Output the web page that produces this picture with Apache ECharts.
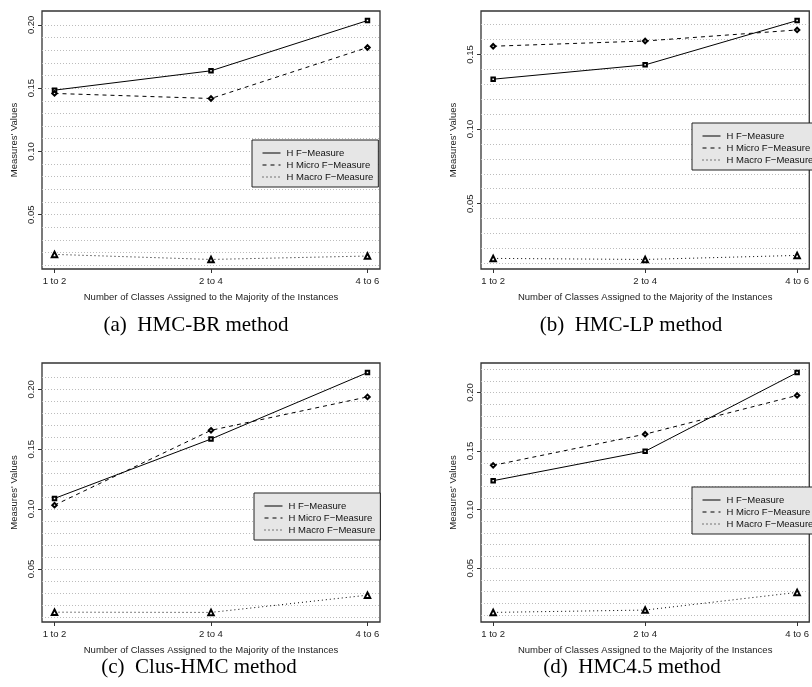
<!DOCTYPE html>
<html>
<head>
<meta charset="utf-8">
<script src="https://cdn.jsdelivr.net/npm/echarts@6/dist/echarts.min.js"></script>
<style>
html,body{margin:0;padding:0;background:#fff;}
#chart{width:812px;height:687px;}
</style>
</head>
<body>
<div id="chart"></div>
<script>
// ---- data ----
const categories = ['1 to 2', '2 to 4', '4 to 6'];
const seriesNames = ['H F\u2212Measure', 'H Micro F\u2212Measure', 'H Macro F\u2212Measure'];
const yTickValues = [0.05, 0.10, 0.15, 0.20];
const xAxisTitle = 'Number of Classes Assigned to the Majority of the Instances';
const yAxisTitle = "Measures' Values";
const captions = ['(a)\u2002HMC-BR method', '(b)\u2002HMC-LP method', '(c)\u2002Clus-HMC method', '(d)\u2002HMC4.5 method'];

const brHF    = [0.1484, 0.1637, 0.2034];
const brMicro = [0.1458, 0.1418, 0.1821];
const brMacro = [0.0186, 0.0146, 0.0173];

const lpHF    = [0.1334, 0.1430, 0.1727];
const lpMicro = [0.1555, 0.1590, 0.1664];
const lpMacro = [0.0133, 0.0126, 0.0153];

const clusHF    = [0.1089, 0.1585, 0.2140];
const clusMicro = [0.1033, 0.1658, 0.1937];
const clusMacro = [0.0139, 0.0137, 0.0281];

const c45HF    = [0.1247, 0.1498, 0.2170];
const c45Micro = [0.1378, 0.1644, 0.1975];
const c45Macro = [0.0122, 0.0142, 0.0293];

const panels = [
  [brHF, brMicro, brMacro],
  [lpHF, lpMicro, lpMacro],
  [clusHF, clusMicro, clusMacro],
  [c45HF, c45Micro, c45Macro]
];

// ---- layout / style ----
const FONT = 'Liberation Sans';
const gridBoxes = [
  {left: 42,  top: 11,  width: 338, height: 258},
  {left: 481, top: 11,  width: 339, height: 258},
  {left: 42,  top: 363, width: 338, height: 259},
  {left: 481, top: 363, width: 339, height: 259}
];
const legendPos = [
  {left: 252, top: 140},
  {left: 692, top: 123},
  {left: 254, top: 493},
  {left: 692, top: 487}
];
const captionPos = [
  {x: 196, y: 325},
  {x: 631, y: 325},
  {x: 199, y: 667},
  {x: 632, y: 667}
];
const lineTypes = ['solid', [4, 4], [1, 3]];
const symbols = ['emptyRect', 'emptyDiamond', 'emptyTriangle'];
const symbolSizes = [3.5, 4.5, 5.5];
const symbolBorders = [1, 1, 0.8];

const option = {
  animation: false,
  backgroundColor: '#fff',
  grid: [], xAxis: [], yAxis: [], series: [], legend: [], graphic: []
};

panels.forEach((vals, i) => {
  const all = vals.flat();
  const dMin = Math.min(...all), dMax = Math.max(...all);
  const ext = (dMax - dMin) * 0.04;
  const yMin = dMin - ext, yMax = dMax + ext;
  const ticks = yTickValues.filter(v => v >= yMin && v <= yMax);
  const gridLevels = [];
  for (let v = dMax; v >= yMin; v -= 0.01) gridLevels.push(v);

  option.grid.push(Object.assign({
    show: true, borderColor: '#333', borderWidth: 1.3, backgroundColor: 'transparent'
  }, gridBoxes[i]));

  option.xAxis.push({
    type: 'value', gridIndex: i, min: 0.92, max: 3.08,
    name: xAxisTitle, nameLocation: 'middle', nameGap: 23,
    nameTextStyle: {fontFamily: FONT, fontSize: 9.5, color: '#222'},
    axisLine: {show: false},
    axisTick: {show: true, length: 4, lineStyle: {color: '#333'}, customValues: [1, 2, 3]},
    axisLabel: {
      show: true, fontFamily: FONT, fontSize: 9.5, color: '#222', margin: 7,
      customValues: [1, 2, 3],
      formatter: v => categories[Math.round(v) - 1]
    },
    splitLine: {show: false}
  });

  option.yAxis.push({
    type: 'value', gridIndex: i, min: yMin, max: yMax,
    name: yAxisTitle, nameLocation: 'middle', nameGap: 23,
    nameTextStyle: {fontFamily: FONT, fontSize: 9.5, color: '#222'},
    axisLine: {show: false},
    axisTick: {show: true, length: 4, lineStyle: {color: '#333'}, customValues: ticks},
    axisLabel: {
      show: true, fontFamily: FONT, fontSize: 9.5, color: '#222', margin: 6,
      rotate: 90, align: 'center', verticalAlign: 'bottom',
      customValues: ticks,
      formatter: v => v.toFixed(2)
    },
    splitLine: {show: false}
  });

  vals.forEach((arr, k) => {
    const s = {
      type: 'line', name: seriesNames[k], xAxisIndex: i, yAxisIndex: i,
      data: arr.map((v, j) => [j + 1, v]),
      symbol: symbols[k], symbolSize: symbolSizes[k], showAllSymbol: true,
      lineStyle: {color: '#000', width: 1, type: lineTypes[k]},
      itemStyle: {color: '#000', borderColor: '#000', borderWidth: symbolBorders[k]},
      emphasis: {disabled: true}, silent: true, z: 3
    };
    if (k === 0) {
      s.markLine = {
        silent: true, symbol: 'none', z: 1, animation: false,
        label: {show: false},
        lineStyle: {color: '#bcbcbc', width: 1, type: [1, 2]},
        emphasis: {disabled: true},
        data: gridLevels.map(v => ({yAxis: v}))
      };
    }
    option.series.push(s);
  });

  option.legend.push({
    show: true, orient: 'vertical',
    left: legendPos[i].left, top: legendPos[i].top,
    data: seriesNames,
    backgroundColor: '#e6e6e6', borderColor: '#222', borderWidth: 1, borderRadius: 0,
    padding: [8, 5, 5, 10],
    itemWidth: 18, itemHeight: 9, itemGap: 2,
    itemStyle: {opacity: 0},
    lineStyle: {width: 1, color: '#000'},
    selectedMode: false,
    textStyle: {fontFamily: FONT, fontSize: 9.5, lineHeight: 9, color: '#111', padding: [0, 0, 0, 1]}
  });

  option.graphic.push({
    type: 'text', x: captionPos[i].x, y: captionPos[i].y, silent: true,
    style: {
      text: captions[i], fill: '#000',
      font: '21px "Liberation Serif"',
      textAlign: 'center', textVerticalAlign: 'middle', verticalAlign: 'middle'
    }
  });
});

const chart = echarts.init(document.getElementById('chart'), null, {renderer: 'canvas'});
chart.setOption(option);
</script>
</body>
</html>
